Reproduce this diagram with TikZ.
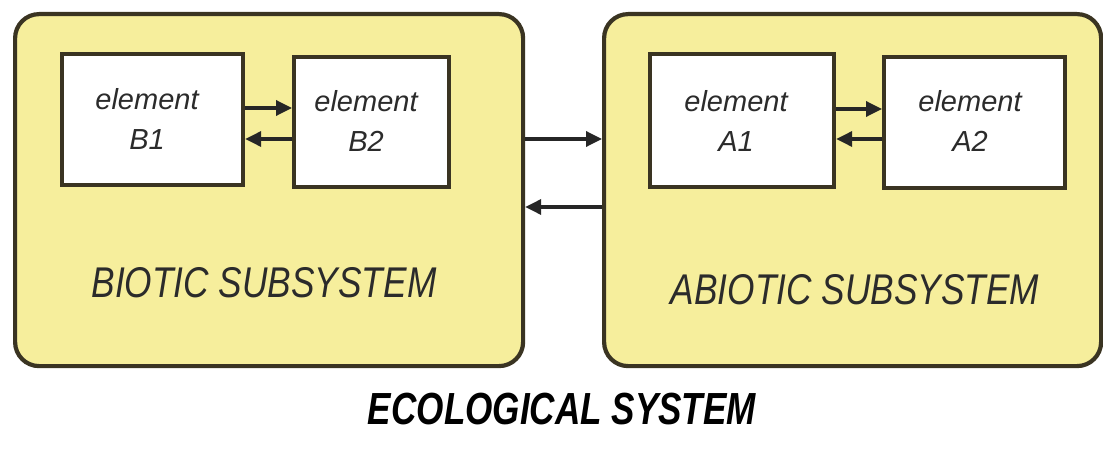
\documentclass[tikz,border=0pt]{standalone}
\usepackage{fontspec}
\setmainfont{Liberation Sans}
\usetikzlibrary{arrows.meta}
\definecolor{subfill}{HTML}{F6EE9C}
\definecolor{edgecol}{HTML}{3A3422}
\definecolor{txtcol}{HTML}{2B2B2B}
\tikzset{
  subsys/.style={draw=edgecol, fill=subfill, line width=4.2pt, rounded corners=24pt, anchor=north west, inner sep=0pt},
  elembox/.style={draw=edgecol, fill=white, line width=4.2pt, anchor=north west, inner sep=0pt},
  elemtext/.style={text=txtcol, align=center, font=\fontsize{29}{40}\selectfont\itshape},
  sublabel/.style={text=txtcol, font=\fontsize{43}{50}\selectfont\itshape, xscale=0.82},
  mainlabel/.style={text=black, font=\fontsize{45}{50}\selectfont\bfseries\itshape, xscale=0.78},
  link/.style={draw=black!85, line width=3.4pt, -{Triangle[length=16pt,width=15pt]}}
}
\begin{document}
\begin{tikzpicture}[x=1pt,y=-1pt]
\useasboundingbox (0,0) rectangle (1103,452);
% subsystems
\node[subsys, minimum width=508pt, minimum height=352pt] (bio) at (13,12) {};
\node[subsys, minimum width=497pt, minimum height=352pt] (abio) at (602,12) {};
% elements
\node[elembox, minimum width=181pt, minimum height=131pt] (b1) at (60,52) {};
\node[elembox, minimum width=155pt, minimum height=130pt] (b2) at (292,55) {};
\node[elembox, minimum width=184pt, minimum height=133pt] (a1) at (648,52) {};
\node[elembox, minimum width=181pt, minimum height=131pt] (a2) at (882,55) {};
\node[elemtext] (b1t) at (147,119) {element\\B1};
\node[elemtext] (b2t) at (366,121) {element\\B2};
\node[elemtext] (a1t) at (736,121) {element\\A1};
\node[elemtext] (a2t) at (970,121) {element\\A2};
% labels
\node[sublabel] (biol) at (264,283) {BIOTIC SUBSYSTEM};
\node[sublabel] (abiol) at (855,290) {ABIOTIC SUBSYSTEM};
\node[mainlabel] (eco) at (562,409) {ECOLOGICAL SYSTEM};
% arrow levels
\coordinate (yb1) at (0,108);
\coordinate (yb2) at (0,139);
\coordinate (ya1) at (0,109);
\coordinate (ya2) at (0,139);
\coordinate (ys1) at (0,139);
\coordinate (ys2) at (0,207);
\draw[link] (b1.east |- yb1) -- (b2.west |- yb1);
\draw[link] (b2.west |- yb2) -- (b1.east |- yb2);
\draw[link] (a1.east |- ya1) -- (a2.west |- ya1);
\draw[link] (a2.west |- ya2) -- (a1.east |- ya2);
\draw[link] (bio.east |- ys1) -- (abio.west |- ys1);
\draw[link] (abio.west |- ys2) -- (bio.east |- ys2);
\end{tikzpicture}
\end{document}
